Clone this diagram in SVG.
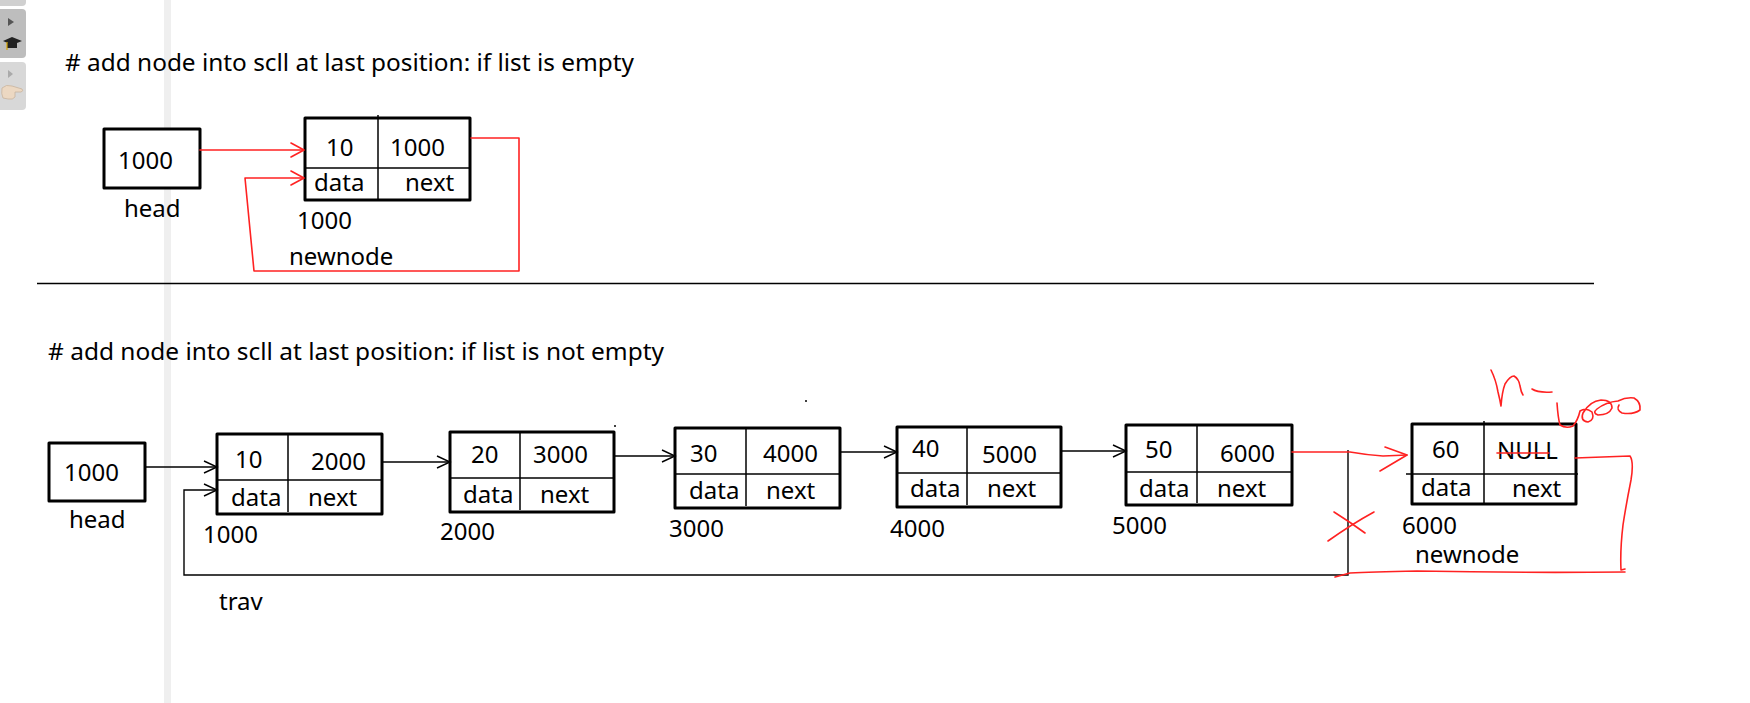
<svg xmlns="http://www.w3.org/2000/svg" width="1750" height="703" viewBox="0 0 1750 703">
<style>
.box{fill:#fff;stroke:#000;stroke-width:3;stroke-linejoin:round}
.dv{stroke:#000;stroke-width:1.5}
.t{font-family:"Noto Sans","Open Sans",sans-serif;font-size:24px;fill:#000}
.arr{stroke:#000;stroke-width:1.4;fill:none;marker-end:url(#ah)}
.red{stroke:#f22;stroke-width:1.6;fill:none;stroke-linecap:round;stroke-linejoin:round}
</style>
<defs>
<marker id="ah" markerUnits="userSpaceOnUse" markerWidth="15" markerHeight="14" refX="13" refY="6" orient="auto" overflow="visible">
<path d="M0,0 L13,6 L0,12" fill="none" stroke="#000" stroke-width="1.4"/>
</marker>
</defs>
<rect width="1750" height="703" fill="#fff"/>
<g id="sidebar">
<rect x="164" y="0" width="7" height="703" fill="#efefef"/>
<rect x="-6" y="-10" width="32" height="16" rx="4" fill="#d0d0d0"/>
<rect x="-6" y="9" width="32" height="49" rx="4" fill="#bdbdbd"/>
<rect x="-6" y="62" width="32" height="48" rx="4" fill="#d8d8d8"/>
<path d="M8,18 L14,22 L8,26 Z" fill="#555"/>
<path d="M3,41 L12,37 L22,41 L12,45 Z" fill="#222"/>
<path d="M7,43 L7,48 L17,48 L17,43 Z" fill="#222"/>
<line x1="7" y1="42" x2="7" y2="50" stroke="#d9a400" stroke-width="1.2"/>
<path d="M8,70 L13,74 L8,78 Z" fill="#aaa"/>
<path d="M2,88 Q6,84 12,86 L22,89 Q24,91 21,92 L15,92 L15,97 Q13,100 8,99 L3,98 Q1,94 2,88 Z" fill="#ecd8c2" stroke="#c8b49e" stroke-width="0.8"/>
</g>

<text class="t" x="65" y="71" textLength="569" lengthAdjust="spacingAndGlyphs"># add node into scll at last position: if list is empty</text>

<g id="head-top">
<rect class="box" x="104" y="129" width="96" height="59"/>
<text class="t" x="118" y="169">1000</text>
<text class="t" x="124" y="217">head</text>
</g>
<g id="newnode-top">
<rect class="box" x="305" y="118" width="165" height="82"/>
<line class="dv" x1="378" y1="115" x2="378" y2="200"/>
<line class="dv" x1="305" y1="168" x2="470" y2="168"/>
<text class="t" x="326" y="156">10</text>
<text class="t" x="390" y="156">1000</text>
<text class="t" x="314" y="191">data</text>
<text class="t" x="405" y="191">next</text>
<text class="t" x="297" y="229">1000</text>
<text class="t" x="289" y="265">newnode</text>
</g>

<line x1="37" y1="283.5" x2="1594" y2="283.5" stroke="#000" stroke-width="1.4"/>

<text class="t" x="48" y="360" textLength="616" lengthAdjust="spacingAndGlyphs"># add node into scll at last position: if list is not empty</text>

<g id="head">
<rect class="box" x="49" y="443" width="96" height="58"/>
<text class="t" x="64" y="481">1000</text>
<text class="t" x="69" y="528">head</text>
</g>
<g id="n1">
<rect class="box" x="217" y="434" width="165" height="80"/>
<line class="dv" x1="288" y1="434" x2="288" y2="512"/>
<line class="dv" x1="217" y1="480" x2="382" y2="480"/>
<text class="t" x="235" y="468">10</text>
<text class="t" x="311" y="470">2000</text>
<text class="t" x="231" y="506">data</text>
<text class="t" x="308" y="506">next</text>
<text class="t" x="203" y="543">1000</text>
</g>
<g id="n2">
<rect class="box" x="450" y="432" width="164" height="80"/>
<line class="dv" x1="520" y1="432" x2="520" y2="510"/>
<line class="dv" x1="450" y1="478" x2="614" y2="478"/>
<text class="t" x="471" y="463">20</text>
<text class="t" x="533" y="463">3000</text>
<text class="t" x="463" y="503">data</text>
<text class="t" x="540" y="503">next</text>
<text class="t" x="440" y="540">2000</text>
</g>
<g id="n3">
<rect class="box" x="675" y="428" width="165" height="80"/>
<line class="dv" x1="746" y1="428" x2="746" y2="506"/>
<line class="dv" x1="675" y1="474" x2="840" y2="474"/>
<text class="t" x="690" y="462">30</text>
<text class="t" x="763" y="462">4000</text>
<text class="t" x="689" y="499">data</text>
<text class="t" x="766" y="499">next</text>
<text class="t" x="669" y="537">3000</text>
</g>
<g id="n4">
<rect class="box" x="897" y="427" width="164" height="80"/>
<line class="dv" x1="967" y1="427" x2="967" y2="505"/>
<line class="dv" x1="897" y1="473" x2="1061" y2="473"/>
<text class="t" x="912" y="457">40</text>
<text class="t" x="982" y="463">5000</text>
<text class="t" x="910" y="497">data</text>
<text class="t" x="987" y="497">next</text>
<text class="t" x="890" y="537">4000</text>
</g>
<g id="n5">
<rect class="box" x="1126" y="425" width="166" height="80"/>
<line class="dv" x1="1197" y1="425" x2="1197" y2="503"/>
<line class="dv" x1="1126" y1="472" x2="1292" y2="472"/>
<text class="t" x="1145" y="458">50</text>
<text class="t" x="1220" y="462">6000</text>
<text class="t" x="1139" y="497">data</text>
<text class="t" x="1217" y="497">next</text>
<text class="t" x="1112" y="534">5000</text>
</g>
<g id="n6">
<rect class="box" x="1412" y="424" width="164" height="80"/>
<line class="dv" x1="1484" y1="421" x2="1484" y2="504"/>
<line class="dv" x1="1406" y1="474" x2="1578" y2="474"/>
<text class="t" x="1432" y="458">60</text>
<text class="t" x="1497" y="459">NULL</text>
<text class="t" x="1421" y="496">data</text>
<text class="t" x="1512" y="497">next</text>
<text class="t" x="1402" y="534">6000</text>
<text class="t" x="1415" y="563">newnode</text>
</g>
<text class="t" x="219" y="610">trav</text>

<g id="connectors">
<line class="red" x1="200" y1="150" x2="303" y2="150"/>
<path class="red" d="M291,143 L304,150 L291,157"/>
<path class="red" d="M471,138 L519,138 L519,271 L254,271 L245,178 L303,178"/>
<path class="red" d="M291,171 L304,178 L291,185"/>
<line class="arr" x1="145" y1="467" x2="217" y2="467"/>
<line class="arr" x1="382" y1="462" x2="450" y2="462"/>
<line class="arr" x1="614" y1="456" x2="675" y2="456"/>
<line class="arr" x1="840" y1="452" x2="897" y2="452"/>
<line class="arr" x1="1061" y1="451" x2="1126" y2="451"/>
<path class="arr" d="M1348,450 L1348,575 L184,575 L184,490 L217,490"/>
<path class="red" d="M1292,452 L1350,452 Q1367,455 1383,456 L1407,455"/>
<path class="red" d="M1385,447 L1407,455 L1380,471"/>
<path class="red" d="M1328,541 Q1352,524 1374,512"/>
<path class="red" d="M1334,512 Q1350,522 1365,533"/>
<line class="red" x1="1497" y1="453" x2="1549" y2="453"/>
<path class="red" d="M1575,458 Q1600,457 1630,456 Q1634,462 1631,480 Q1626,505 1623,525 Q1620,550 1621,570 L1625,569"/>
<path class="red" d="M1625,572 Q1520,573 1417,571 Q1370,572 1350,573 L1335,577"/>
<path class="red" d="M1491,370 Q1496,380 1498,392 Q1500,400 1501,406 Q1502,392 1505,384 Q1510,376 1514,376 Q1519,379 1520,386 Q1521,392 1523,395"/>
<path class="red" d="M1532,389 Q1538,393 1552,392"/>
<path class="red" d="M1557,403 Q1558,418 1560,425 Q1566,429 1573,426 Q1578,420 1580,411 Q1586,407 1592,412 Q1595,420 1588,422 Q1580,421 1583,413 Q1590,401 1601,400 Q1612,400 1612,408 Q1609,415 1598,415 Q1592,413 1597,409 Q1606,402 1618,401 Q1626,397 1634,398 Q1641,402 1640,410 Q1633,415 1622,413 Q1616,410 1619,405"/>
<circle cx="615" cy="426" r="1" fill="#000"/>
<circle cx="806" cy="401" r="1" fill="#000"/>
</g>
</svg>
